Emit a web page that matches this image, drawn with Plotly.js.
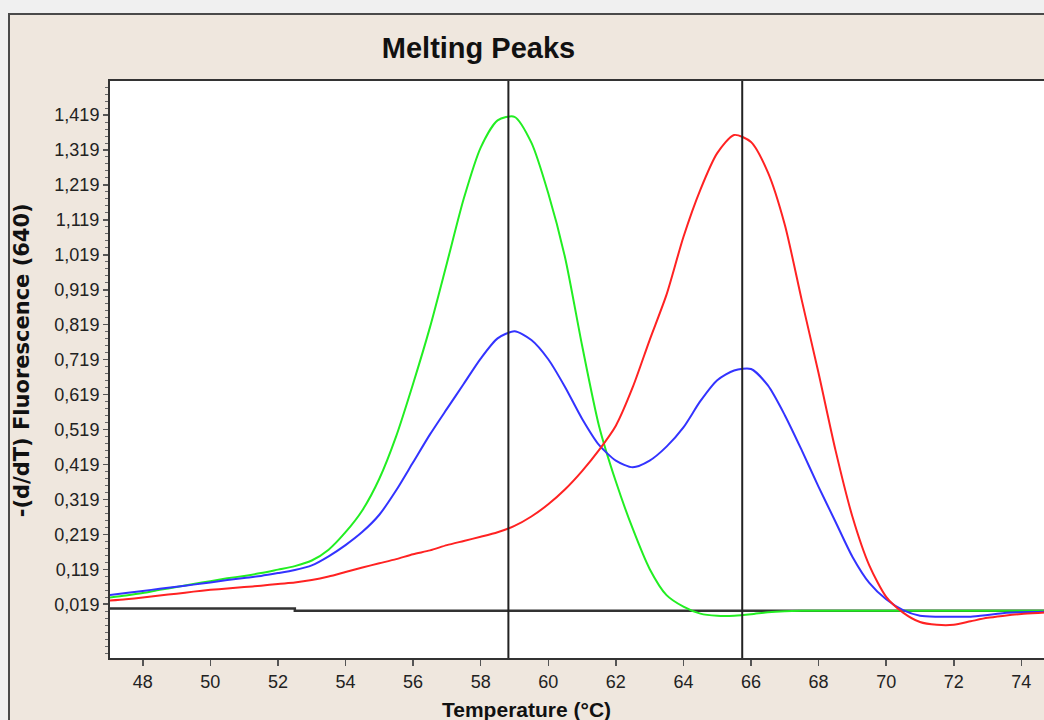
<!DOCTYPE html>
<html>
<head>
<meta charset="utf-8">
<script src="https://cdn.plot.ly/plotly-3.0.1.min.js"></script>
<style>
  html, body { margin: 0; padding: 0; background: #F0F0F0; width: 1044px; height: 720px; overflow: hidden; }
  #frame { position: absolute; left: 8px; top: 13px; width: 1036px; height: 707px;
           border-left: 2px solid #4a4a4a; border-top: 2px solid #4a4a4a; background: #EFE7DE; }
  #chart { position: absolute; left: 0; top: 0; width: 1036px; height: 707px; }
</style>
</head>
<body>
<div id="frame"><div id="chart"></div></div>
<script>
// Temperature grid (°C)
const temps = [47.0,47.5,48.0,48.5,49.0,49.5,50.0,50.5,51.0,51.5,52.0,52.5,53.0,53.5,54.0,54.5,55.0,55.5,56.0,56.5,
               57.0,57.5,58.0,58.5,59.0,59.5,60.0,60.5,61.0,61.5,62.0,62.5,63.0,63.5,64.0,64.5,65.0,65.5,66.0,66.5,
               67.0,67.5,68.0,68.5,69.0,69.5,70.0,70.5,71.0,71.5,72.0,72.5,73.0,73.5,74.0,74.5,74.7];

// -(d/dT) Fluorescence (640) per sample
const greenValues = [0.038,0.044,0.051,0.060,0.068,0.077,0.085,0.093,0.100,0.108,0.118,0.128,0.144,0.175,0.225,0.288,0.378,0.500,0.650,0.812,
                     0.995,1.180,1.326,1.404,1.414,1.340,1.195,1.010,0.760,0.530,0.370,0.235,0.120,0.045,0.012,-0.008,-0.014,-0.014,-0.010,-0.004,
                     -0.001,0.000,0.000,0.000,0.000,0.000,0.000,0.000,0.000,0.000,0.000,0.000,0.000,0.000,0.000,0.000,0.000];
const blueValues  = [0.045,0.051,0.057,0.063,0.069,0.075,0.081,0.088,0.094,0.100,0.108,0.117,0.130,0.156,0.188,0.226,0.275,0.345,0.425,0.505,
                     0.578,0.650,0.722,0.780,0.800,0.775,0.720,0.640,0.550,0.475,0.430,0.411,0.430,0.470,0.525,0.600,0.660,0.688,0.692,0.645,
                     0.560,0.460,0.355,0.255,0.155,0.080,0.033,0.002,-0.014,-0.017,-0.017,-0.017,-0.012,-0.006,-0.004,-0.003,-0.003];
const redValues   = [0.029,0.033,0.038,0.044,0.049,0.055,0.060,0.064,0.068,0.072,0.077,0.081,0.088,0.098,0.111,0.124,0.136,0.148,0.162,0.173,
                     0.188,0.200,0.212,0.225,0.243,0.270,0.305,0.348,0.400,0.460,0.530,0.640,0.775,0.905,1.070,1.205,1.310,1.362,1.342,1.255,
                     1.105,0.890,0.680,0.460,0.270,0.130,0.040,-0.005,-0.032,-0.040,-0.040,-0.030,-0.020,-0.014,-0.009,-0.006,-0.005];
const baselineValues = [0.007,0.007,0.007,0.007,0.007,0.007,0.007,0.007,0.007,0.007,0.007,0.000,0.000,0.000,0.000,0.000,0.000,0.000,0.000,0.000,
                        0.000,0.000,0.000,0.000,0.000,0.000,0.000,0.000,0.000,0.000,0.000,0.000,0.000,0.000,0.000,0.000,0.000,0.000,0.000,0.000,
                        0.000,0.000,0.000,0.000,0.000,0.000,0.000,0.000,0.000,0.000,0.000,0.000,0.000,0.000,0.000,0.000,0.000];

// Peak cursor temperatures
const peakCursors = [58.82, 65.74];

// Axis ticks
const xTickVals = [48,50,52,54,56,58,60,62,64,66,68,70,72,74];
const yTickVals = [0.019,0.119,0.219,0.319,0.419,0.519,0.619,0.719,0.819,0.919,1.019,1.119,1.219,1.319,1.419];
const yTickText = yTickVals.map(v => v.toFixed(3).replace('.', ','));

const traces = [
  {x: temps, y: baselineValues, mode: 'lines', line: {color: '#333333', width: 2.5, shape: 'hv'}, name: 'baseline'},
  {x: temps, y: greenValues, mode: 'lines', line: {color: '#22EE22', width: 2, shape: 'spline', smoothing: 0.7}, name: 'green'},
  {x: temps, y: blueValues, mode: 'lines', line: {color: '#3333FF', width: 2, shape: 'spline', smoothing: 0.7}, name: 'blue'},
  {x: temps, y: redValues, mode: 'lines', line: {color: '#FF2222', width: 2, shape: 'spline', smoothing: 0.7}, name: 'red'}
];

const shapes = peakCursors.map(t => ({
  type: 'line', xref: 'x', yref: 'paper', x0: t, x1: t, y0: 0, y1: 1,
  line: {color: '#222222', width: 2}
}));

const layout = {
  width: 1036, height: 707,
  margin: {l: 100, r: 0, t: 66, b: 64},
  paper_bgcolor: '#EFE7DE',
  plot_bgcolor: '#FFFFFF',
  showlegend: false,
  font: {family: 'Liberation Sans, Arial, sans-serif', color: '#222222'},
  title: {
    text: 'Melting Peaks',
    font: {family: 'Liberation Sans, Arial, sans-serif', size: 29, color: '#111111', weight: 'bold'},
    xref: 'container', yref: 'container', x: 468.5/1036, y: 1 - 33/707, xanchor: 'center', yanchor: 'middle'
  },
  xaxis: {
    range: [47.03, 74.73],
    tickvals: xTickVals,
    ticktext: xTickVals.map(String),
    ticks: 'outside', ticklen: 6, tickwidth: 1.5, tickcolor: '#555555',
    showline: true, linecolor: '#333333', linewidth: 2, mirror: true,
    showgrid: false, zeroline: false,
    tickfont: {size: 18, color: '#222222'}
  },
  yaxis: {
    range: [-0.135, 1.5165],
    tickvals: yTickVals,
    ticktext: yTickText,
    ticks: 'outside', ticklen: 5, tickwidth: 1.5, tickcolor: '#555555',
    minor: {dtick: 0.02, tick0: 0.019, ticks: 'outside', ticklen: 3, tickwidth: 1, tickcolor: '#666666', showgrid: false},
    showline: true, linecolor: '#333333', linewidth: 2, mirror: false,
    showgrid: false, zeroline: false,
    tickfont: {size: 18, color: '#222222'}
  },
  shapes: shapes,
  annotations: [
    {text: 'Temperature (°C)', xref: 'paper', yref: 'paper', x: (526-110)/934, y: -51/576,
     xanchor: 'center', yanchor: 'middle', showarrow: false,
     font: {size: 21, color: '#111111', weight: 'bold'}},
    {text: '-(d/dT) Fluorescence (640)', xref: 'paper', yref: 'paper', x: (23-110)/934, y: (657-360)/576,
     xanchor: 'center', yanchor: 'middle', textangle: -90, showarrow: false,
     font: {family: 'DejaVu Sans, sans-serif', size: 21, color: '#111111', weight: 'bold'}}
  ]
};

Plotly.newPlot('chart', traces, layout, {displayModeBar: false, staticPlot: true});
</script>
</body>
</html>
